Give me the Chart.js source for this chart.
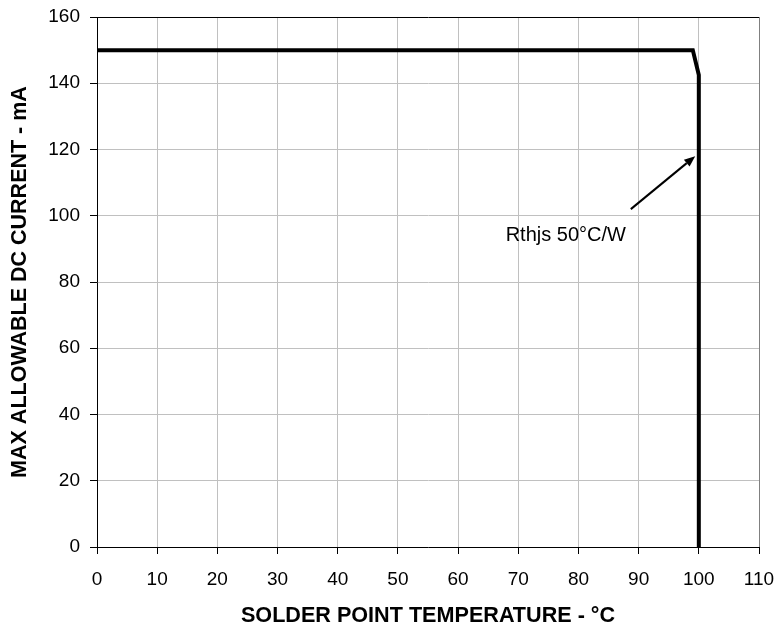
<!DOCTYPE html>
<html>
<head>
<meta charset="utf-8">
<script src="https://cdn.jsdelivr.net/npm/chart.js@4.4.0/dist/chart.umd.min.js"></script>
<style>
html,body{margin:0;padding:0;background:#fff;}
#wrap{width:782px;height:634px;position:relative;}
</style>
</head>
<body>
<div id="wrap"><canvas id="c" width="782" height="634"></canvas></div>
<script>
// Data
const temperature = [0, 99, 100, 100];
const maxCurrent = [150, 150, 142.5, 0];
const xTicks = [0, 10, 20, 30, 40, 50, 60, 70, 80, 90, 100, 110];
const yTicks = [0, 20, 40, 60, 80, 100, 120, 140, 160];
const annotationText = "Rthjs 50°C/W";
const arrowFrom = [88.7, 102];
const arrowTo = [99.4, 118];
const labelAt = [67.9, 94];

const FONT = "'Liberation Sans', Arial, sans-serif";

const annotationPlugin = {
  id: 'annot',
  afterDatasetsDraw(chart) {
    const ctx = chart.ctx, x = chart.scales.x, y = chart.scales.y;
    const x1 = x.getPixelForValue(arrowFrom[0]), y1 = y.getPixelForValue(arrowFrom[1]);
    const x2 = x.getPixelForValue(arrowTo[0]), y2 = y.getPixelForValue(arrowTo[1]);
    ctx.save();
    ctx.strokeStyle = '#000'; ctx.fillStyle = '#000'; ctx.lineWidth = 2;
    const ang = Math.atan2(y2 - y1, x2 - x1);
    const hl = 11, hw = 4.5;
    const bx = x2 - hl * Math.cos(ang), by = y2 - hl * Math.sin(ang);
    ctx.beginPath(); ctx.moveTo(x1, y1); ctx.lineTo(bx, by); ctx.stroke();
    ctx.beginPath();
    ctx.moveTo(x2, y2);
    ctx.lineTo(bx + hw * Math.sin(ang), by - hw * Math.cos(ang));
    ctx.lineTo(bx - hw * Math.sin(ang), by + hw * Math.cos(ang));
    ctx.closePath(); ctx.fill();
    ctx.font = '20px ' + FONT;
    ctx.textAlign = 'left'; ctx.textBaseline = 'middle';
    ctx.fillText(annotationText, x.getPixelForValue(labelAt[0]), y.getPixelForValue(labelAt[1]));
    ctx.restore();
  }
};

new Chart(document.getElementById('c'), {
  type: 'scatter',
  data: {
    datasets: [{
      data: temperature.map((t, i) => ({x: t, y: maxCurrent[i]})),
      showLine: true,
      borderColor: '#000',
      borderWidth: 4,
      pointRadius: 0,
      fill: false,
      tension: 0,
      borderJoinStyle: 'miter'
    }]
  },
  options: {
    responsive: false,
    animation: false,
    events: [],
    layout: {padding: {left: 0, top: 17, right: 23, bottom: 0}},
    plugins: {legend: {display: false}, tooltip: {enabled: false}},
    scales: {
      x: {
        type: 'linear', min: 0, max: 110,
        afterBuildTicks(s) { s.ticks = xTicks.map(v => ({value: v})); },
        afterFit(s) { s.height = 87; s.paddingLeft = 0; s.paddingRight = 0; },
        ticks: {color: '#000', font: {family: FONT, size: 19}, padding: 14, maxRotation: 0, autoSkip: false},
        grid: {
          color: ctx => ctx.tick && ctx.tick.value === 110 ? '#808080' : '#c0c0c0',
          tickColor: '#000', tickLength: 7, drawOnChartArea: true
        },
        border: {color: '#000', width: 1},
        title: {display: true, text: 'SOLDER POINT TEMPERATURE - °C', color: '#000',
          font: {family: FONT, size: 21.6, weight: 'bold'}, padding: {top: 0, bottom: 5}}
      },
      y: {
        type: 'linear', min: 0, max: 160,
        afterBuildTicks(s) { s.ticks = yTicks.map(v => ({value: v})); },
        afterFit(s) { s.width = 97; s.paddingTop = 0; s.paddingBottom = 0; },
        ticks: {color: '#000', font: {family: FONT, size: 19}, padding: 10, autoSkip: false},
        grid: {
          color: ctx => ctx.tick && ctx.tick.value === 160 ? '#000' : '#c0c0c0',
          tickColor: '#000', tickLength: 7
        },
        border: {color: '#000', width: 1},
        title: {display: true, text: 'MAX ALLOWABLE DC CURRENT - mA', color: '#000',
          font: {family: FONT, size: 21.5, weight: 'bold'}, padding: {top: 7, bottom: 0}}
      }
    }
  },
  plugins: [annotationPlugin]
});
</script>
</body>
</html>
